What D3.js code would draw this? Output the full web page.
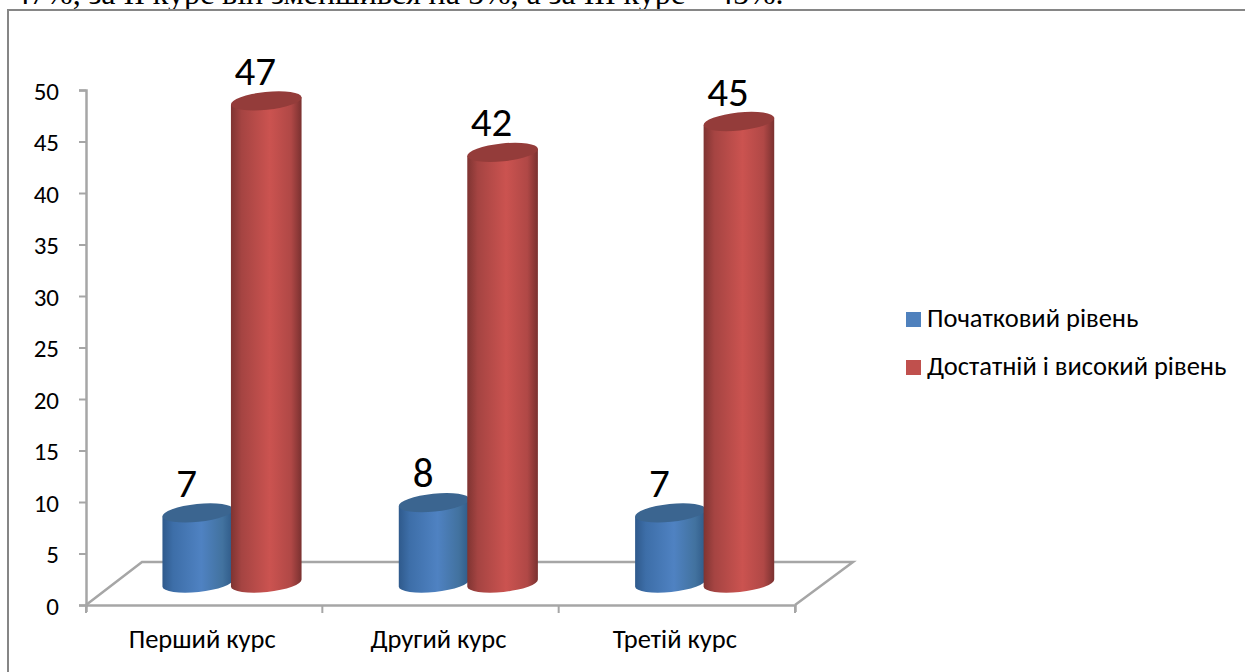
<!DOCTYPE html>
<html>
<head>
<meta charset="utf-8">
<script src="https://cdn.jsdelivr.net/npm/d3@7"></script>
<style>
body { margin: 0; background: #fff; }
svg { display: block; }
text { font-family: Carlito, "Open Sans", "Noto Sans", sans-serif; fill: #000; }
</style>
</head>
<body>
<svg id="chart" width="1245" height="672"></svg>
<script>
var categories = ["Перший курс", "Другий курс", "Третій курс"];
var seriesNames = ["Початковий рівень", "Достатній і високий рівень"];
var initial = [7, 8, 7];
var sufficient = [47, 42, 45];
var yTicks = [0, 5, 10, 15, 20, 25, 30, 35, 40, 45, 50];
var headerLine = "47%, за II курс він зменшився на 5%, а за III курс – 45%.";

var svg = d3.select("#chart");

var defs = svg.append("defs");
function addGradient(id, stops) {
    var g = defs.append("linearGradient").attr("id", id)
        .attr("x1", "0%").attr("x2", "100%").attr("y1", "0%").attr("y2", "0%");
    stops.forEach(function(s) {
        g.append("stop").attr("offset", s[0]).attr("stop-color", s[1]);
    });
}
addGradient("blueBody", [["0%", "#2f5a8c"], ["15%", "#3d6ea8"], ["55%", "#4f82c2"], ["85%", "#42729f"], ["100%", "#2f5a88"]]);
addGradient("redBody", [["0%", "#7f3432"], ["15%", "#a54442"], ["55%", "#cb5350"], ["85%", "#b04846"], ["100%", "#7a3130"]]);

var colors = {
    body: ["url(#blueBody)", "url(#redBody)"],
    top: ["#3b6590", "#943c3a"],
    legend: ["#4f81bd", "#c0504d"]
};

// header text cut by the top of the page
svg.append("text")
    .attr("x", 14).attr("y", 4)
    .style("font-family", "'Liberation Serif', serif")
    .style("font-size", "32px")
    .text(headerLine);

// chart frame, only left and top edges are in the picture
svg.append("path")
    .attr("d", "M8,672 L8,10 L1245,10")
    .attr("fill", "none")
    .attr("stroke", "#868686")
    .attr("stroke-width", 2);

var yScale = d3.scaleLinear().domain([0, 50]).range([605, 90]);
var xScale = d3.scaleBand().domain(categories).range([86, 795]);
var seriesScale = d3.scaleBand().domain([0, 1]).range([77.5, 214.5]);

var depthX = 56, depthY = 43, baseLift = 20;
var axisColor = "#a6a6a6";

// floor of the 3d plot
var y0 = yScale(0), x0 = xScale.range()[0], x1 = xScale.range()[1];
svg.append("path")
    .attr("d", d3.line()([[x0, y0], [x0 + depthX, y0 - depthY], [x1 + depthX + 2, y0 - depthY], [x1, y0]]))
    .attr("fill", "none")
    .attr("stroke", axisColor)
    .attr("stroke-width", 2.5);

// x axis
var xAxis = d3.axisBottom(xScale).tickSize(7).tickFormat("").tickValues([]);
svg.append("g")
    .attr("transform", "translate(0," + y0 + ")")
    .call(xAxis)
    .call(function(g) {
        g.select(".domain").attr("stroke", axisColor).attr("stroke-width", 2.5);
        categories.concat(["end"]).forEach(function(c, i) {
            var tx = i < categories.length ? xScale(c) : x1;
            g.append("line").attr("x1", tx).attr("x2", tx).attr("y1", 0).attr("y2", 8)
                .attr("stroke", axisColor).attr("stroke-width", 2);
        });
    });

svg.selectAll(".cat")
    .data(categories)
    .enter().append("text")
    .attr("class", "cat")
    .attr("x", function(d) { return xScale(d) + xScale.bandwidth() / 2 - 2; })
    .attr("y", 648)
    .attr("text-anchor", "middle")
    .style("font-size", "26.5px")
    .text(function(d) { return d; });

// y axis
var yAxis = d3.axisLeft(yScale).tickValues(yTicks).tickSize(7).tickPadding(20);
svg.append("g")
    .attr("transform", "translate(" + x0 + ",0)")
    .call(yAxis)
    .call(function(g) {
        g.select(".domain").attr("stroke", axisColor).attr("stroke-width", 2.5);
        g.selectAll("line").attr("stroke", axisColor).attr("stroke-width", 2);
        g.selectAll("text")
            .attr("dy", "0.36em")
            .attr("fill", "#000")
            .style("font-size", "25px")
            .style("font-family", "Carlito, 'Open Sans', 'Noto Sans', sans-serif");
    });

// cylinders
var rx = 35.5, ry = 9, tilt = -6;
function cylinder(cx, value, s) {
    var top = yScale(value) - baseLift;
    var bottom = y0 - baseLift - 2;
    var dx = rx * Math.cos(tilt * Math.PI / 180);
    var dy = rx * Math.sin(tilt * Math.PI / 180);
    var g = svg.append("g");
    g.append("path")
        .attr("d", "M" + (cx - dx) + "," + (top - dy) +
            " L" + (cx - dx) + "," + (bottom - dy) +
            " A" + rx + "," + ry + " " + tilt + " 0 0 " + (cx + dx) + "," + (bottom + dy) +
            " L" + (cx + dx) + "," + (top + dy) + " Z")
        .attr("fill", colors.body[s]);
    g.append("ellipse")
        .attr("cx", cx).attr("cy", top)
        .attr("rx", rx).attr("ry", ry)
        .attr("transform", "rotate(" + tilt + " " + cx + " " + top + ")")
        .attr("fill", colors.top[s]);
    svg.append("text")
        .attr("x", cx - 11)
        .attr("y", top - 16)
        .attr("text-anchor", "middle")
        .style("font-size", "41px")
        .text(value);
}
[initial, sufficient].forEach(function(values, s) {
    values.forEach(function(v, i) {
        var cx = xScale(categories[i]) + seriesScale(s) + seriesScale.bandwidth() / 2;
        cylinder(cx, v, s);
    });
});

// legend
seriesNames.forEach(function(name, i) {
    var ly = 312 + i * 48;
    svg.append("rect").attr("x", 906).attr("y", ly).attr("width", 15).attr("height", 15).attr("fill", colors.legend[i]);
    svg.append("text").attr("x", 927).attr("y", ly + 15).style("font-size", "26.5px").text(name);
});
</script>
</body>
</html>
